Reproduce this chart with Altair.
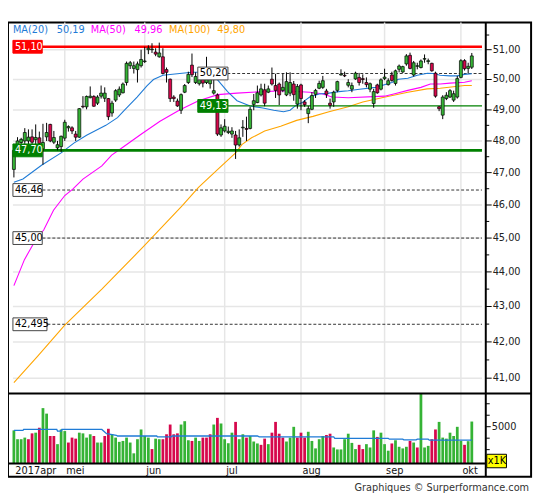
import altair as alt
import pandas as pd

# ---------------- data ----------------
OPEN = [47.10, 47.80, 47.95, 48.00, 48.00, 48.13, 48.04, 48.10, 47.75, 48.13,
        48.53, 47.96, 47.78, 47.82, 48.09, 48.42, 48.42, 48.22, 48.12, 49.12,
        49.10, 49.40, 49.44, 49.22, 49.45, 49.38, 49.37, 48.90, 49.32, 49.49,
        49.56, 49.90, 50.46, 50.37, 50.33, 50.46, 50.60, 51.00, 51.00, 50.92,
        50.76, 50.76, 50.33, 50.01, 49.42, 49.29, 48.99, 49.58, 49.90, 50.48,
        49.90, 49.86, 50.01, 49.90, 49.86, 49.55, 49.49, 48.19, 48.32, 48.27,
        48.22, 48.19, 47.87, 48.42, 48.40, 48.40, 49.18, 49.24, 49.49, 49.66,
        49.58, 50.01, 49.80, 49.85, 49.64, 49.49, 49.55, 49.85, 49.19, 49.82,
        49.26, 48.88, 49.02, 49.51, 49.71, 49.74, 49.62, 49.22, 49.26, 49.64,
        50.15, 50.14, 49.81, 49.68, 50.02, 50.07, 50.03, 49.90, 49.68, 49.21,
        49.82, 49.68, 50.03, 49.83, 50.15, 49.87, 50.34, 50.25, 50.52, 50.81,
        50.15, 50.44, 50.40, 50.68, 50.60, 50.54, 50.21, 49.10, 48.83, 49.37,
        49.42, 49.32, 49.42, 50.07, 50.63, 50.37, 50.41]
HIGH = [47.85, 48.12, 48.10, 48.41, 48.37, 48.37, 48.53, 48.30, 48.55, 48.58,
        48.55, 48.32, 48.00, 48.17, 48.68, 48.50, 48.47, 48.32, 49.06, 49.45,
        49.47, 49.77, 49.48, 49.48, 49.80, 49.74, 49.39, 49.30, 49.68, 49.77,
        49.90, 50.60, 50.62, 50.60, 50.60, 51.00, 51.10, 51.15, 51.22, 51.05,
        51.24, 51.05, 50.40, 50.03, 49.48, 49.37, 49.54, 49.85, 50.26, 50.87,
        50.24, 50.40, 50.10, 50.76, 50.10, 50.07, 49.54, 48.53, 48.70, 48.46,
        48.44, 48.32, 48.37, 48.67, 48.78, 49.10, 49.52, 49.80, 49.86, 49.86,
        49.80, 50.40, 50.19, 49.90, 50.20, 50.24, 50.24, 49.95, 49.85, 49.86,
        49.32, 49.13, 49.58, 49.69, 49.96, 50.12, 49.69, 49.37, 49.63, 49.96,
        50.34, 50.26, 50.01, 49.90, 50.26, 50.22, 50.17, 50.07, 49.90, 49.69,
        49.86, 50.04, 50.36, 50.04, 50.26, 50.33, 50.50, 50.46, 50.85, 50.90,
        50.62, 50.56, 50.67, 50.84, 50.70, 50.56, 50.26, 49.13, 49.48, 49.58,
        49.68, 49.63, 50.12, 50.68, 50.68, 50.56, 50.89]
LOW = [46.85, 47.72, 47.80, 47.85, 47.85, 47.90, 47.85, 47.75, 47.25, 48.00,
       47.96, 47.90, 47.70, 47.65, 48.00, 48.30, 48.22, 48.00, 48.10, 49.05,
       49.02, 49.38, 49.10, 49.16, 49.37, 49.26, 48.67, 48.78, 49.26, 49.42,
       49.54, 49.80, 50.35, 50.20, 49.90, 50.40, 50.55, 50.85, 50.89, 50.78,
       50.73, 50.17, 49.90, 49.26, 49.26, 49.10, 48.87, 49.55, 49.85, 50.08,
       49.85, 49.80, 49.74, 49.85, 49.70, 49.50, 48.16, 48.13, 48.27, 48.22,
       48.10, 47.43, 47.82, 48.13, 48.00, 48.37, 48.99, 49.22, 49.44, 49.12,
       49.55, 49.80, 49.39, 49.16, 49.58, 49.45, 49.45, 49.30, 49.04, 48.99,
       49.10, 48.57, 48.99, 49.39, 49.68, 49.69, 49.39, 49.04, 49.10, 49.58,
       50.13, 50.08, 49.74, 49.58, 49.99, 49.80, 49.86, 49.74, 49.58, 49.07,
       49.53, 49.64, 49.98, 49.80, 49.93, 49.80, 50.24, 50.22, 50.46, 50.34,
       50.10, 50.34, 50.37, 50.56, 50.51, 50.26, 49.40, 48.96, 48.70, 49.32,
       49.39, 49.26, 49.37, 50.04, 50.30, 50.20, 50.35]
CLOSE = [47.70, 48.00, 48.05, 48.27, 48.12, 47.96, 48.11, 47.92, 47.95, 48.27,
         48.00, 48.11, 47.88, 48.15, 48.60, 48.46, 48.32, 48.12, 49.04, 49.10,
         49.44, 49.45, 49.12, 49.42, 49.55, 49.55, 48.78, 49.22, 49.63, 49.68,
         49.85, 50.54, 50.56, 50.46, 50.52, 50.67, 50.62, 51.05, 51.02, 50.85,
         50.89, 50.20, 50.24, 49.37, 49.37, 49.13, 49.50, 49.80, 50.17, 50.16,
         50.10, 50.00, 49.88, 50.01, 50.01, 49.63, 48.22, 48.42, 48.47, 48.31,
         48.32, 47.87, 48.10, 48.44, 48.37, 49.02, 49.30, 49.56, 49.69, 49.22,
         49.69, 49.85, 49.64, 49.49, 49.74, 49.93, 49.90, 49.50, 49.77, 49.37,
         49.17, 49.04, 49.47, 49.64, 49.87, 49.96, 49.51, 49.15, 49.58, 49.93,
         50.18, 50.12, 49.90, 49.80, 50.21, 49.90, 50.00, 49.83, 49.86, 49.60,
         49.56, 49.99, 50.08, 49.96, 49.97, 50.29, 50.45, 50.43, 50.79, 50.37,
         50.56, 50.46, 50.62, 50.70, 50.63, 50.29, 49.45, 49.04, 49.42, 49.48,
         49.63, 49.53, 50.03, 50.63, 50.36, 50.44, 50.79]
VOLUME = [4680, 3910, 3910, 4050, 3910, 4420, 4480, 4910, 6620, 6140,
          4190, 4190, 3480, 4760, 4620, 3620, 4050, 3960, 4480, 4420,
          4050, 4340, 4190, 3620, 3620, 4190, 4820, 4340, 4050, 3680,
          3760, 4050, 3620, 2680, 3910, 4760, 4190, 4050, 3050, 3960,
          3910, 3910, 4340, 5190, 4340, 4420, 5190, 5480, 3820, 3760,
          4050, 3760, 4050, 4050, 4340, 5190, 5770, 5280, 3910, 3560,
          4480, 5420, 3910, 4340, 4050, 4190, 3710, 3540, 3420, 3960,
          3480, 4480, 5420, 4390, 4050, 3710, 4050, 4990, 4050, 4480,
          4050, 4560, 3760, 3110, 3910, 4190, 4280, 4390, 3190, 3020,
          3020, 3910, 4390, 3590, 3050, 3420, 3050, 3480, 3190, 4680,
          4110, 4480, 3480, 2910, 3540, 3820, 3250, 3110, 3250, 3760,
          3620, 3190, 7900, 3190, 3330, 3910, 4760, 5420, 4050, 3960,
          4480, 4190, 4990, 3760, 3420, 3740, 5450]
VOL_DIR = list("ggggrrgrgg" "rrgggrrrgg" "ggrggrrggg" "ggggggggrg"
               "grrrrrgggr" "ggrrrgrggg" "grggrgggrr" "grrrrgggrr"
               "rgggggrrgg" "gggggrrggg" "rgggrggggr" "grgggrrggg" "ggggrgg")

MA20_X = [0, 2.5, 7.6, 13, 16.5, 20, 25.3, 28.5, 30.5, 33.9, 36.6, 38.4, 41, 46.3, 49, 52.6,
          54.8, 56.1, 58.8, 61.4, 65, 68.5, 71.5, 74.2, 76, 77.4, 79.2, 81.4, 84, 86.7,
          89.4, 92, 95.1, 99.5, 104, 105.8, 108.4, 111, 113.8, 115.4, 117.3, 120, 122, 124, 126]
MA20_Y = [46.70, 46.80, 47.23, 47.62, 47.93, 48.18, 48.50, 48.75, 49.00, 49.42, 49.79, 50.00,
          50.14, 50.21, 50.24, 50.24, 50.17, 49.98, 49.60, 49.30, 49.13, 49.06, 48.99, 48.94,
          48.99, 49.13, 49.23, 49.42, 49.52, 49.55, 49.60, 49.63, 49.68, 49.74, 49.90, 50.01,
          50.04, 50.14, 50.21, 50.20, 50.14, 50.12, 50.12, 50.17, 50.19]
MA50_X = [0, 2.9, 6, 8.2, 10.9, 14, 16.2, 19, 24.2, 26.9, 29.5, 34.8, 40.2, 45.6, 50.8, 56.1,
          61.4, 68.5, 74.2, 81.4, 84.8, 87.5, 92, 102, 104.8, 108.4, 112, 114.6, 117.3, 120, 124, 126]
MA50_Y = [43.60, 44.36, 44.95, 45.24, 45.84, 46.29, 46.49, 46.80, 47.21, 47.55, 47.76, 48.20,
          48.63, 49.00, 49.30, 49.50, 49.55, 49.60, 49.63, 49.58, 49.53, 49.42, 49.40, 49.45,
          49.53, 49.64, 49.74, 49.85, 49.85, 49.88, 49.91, 49.96]
MA100_X = [0, 6.5, 14, 24.2, 35.7, 46.4, 50.8, 56.1, 61, 62.8, 65.4, 69, 73.4, 77.8, 82.3,
           86.7, 92, 96, 102.2, 108.4, 113.7, 117.3, 124, 126]
MA100_Y = [40.88, 41.60, 42.47, 43.50, 44.75, 45.99, 46.54, 47.10, 47.62, 47.89, 48.10, 48.32,
           48.47, 48.66, 48.79, 48.94, 49.10, 49.26, 49.42, 49.58, 49.69, 49.71, 49.80, 49.80]
VMA_X = [0, 2.5, 2.7, 11.8, 12, 13, 13.2, 24.2, 25.5, 28.2, 28.5, 39.3, 39.5, 43.3, 43.5, 67,
         67.5, 88, 88.3, 103, 103.3, 107, 107.3, 110.7, 111, 114, 114.3, 126]
VMA_Y = [4680, 4680, 4760, 4760, 4620, 4620, 4760, 4760, 4390, 4250, 4190, 4190, 4110, 4110,
         4190, 4190, 4110, 4110, 3990, 3990, 3910, 3910, 3850, 3850, 3910, 3910, 3830, 3830]

MONTH_IDX = [0, 14, 36, 58, 79, 102, 123]
MONTH_LBL = ["2017apr", "mei", "jun", "jul", "aug", "sep", "okt"]
PRICE_TICKS = [41, 42, 43, 44, 45, 46, 47, 48, 49, 50, 51]
PRICE_MINOR = [41.5, 42.5, 43.5, 44.5, 45.5, 46.5, 47.5, 48.5, 49.5, 50.5, 51.5]
VOL_TICKS = [3000, 4000, 6000, 7000]
VOL_LABEL = [5000]

LEVEL_P = [51.10, 47.70, 49.13, 50.20, 46.46, 45.00, 42.495]
LEVEL_TXT = ["51,10", "47,70", "49,13", "50,20", "46,46", "45,00", "42,495"]
LEGEND_TXT = ["MA(20)", "50,19", "MA(50)", "49,96", "MA(100)", "49,80"]

# ---------------- styling / layout ----------------
FONT = "DejaVu Sans Condensed, Liberation Sans, sans-serif"
UP, DOWN = "#35b335", "#d6084c"
BLUE, MAG, ORA = "#1f7bd6", "#ff00ff", "#ffa500"
LGREEN, LRED = "#008000", "#ff0000"
GRID = "#e6e6e6"
W, H = 531, 461
X0, X1 = -0.266, 140.957
AXIS = 128.8
AXIS_PX = 485
P_MIN, P_MAX = 40.59, 51.93
V_MIN, V_MAX = 1790, 7920
BOX_F = 1.00426  # half box height (6.5 px) on the log price scale

xs = alt.Scale(domain=[X0, X1], nice=False, zero=False)
ys = alt.Scale(type="log", domain=[P_MIN, P_MAX], range=[376.4, 0], nice=False)
vs = alt.Scale(domain=[V_MIN, V_MAX], range=[447.7, 376.3], nice=False, zero=False)


def X(f):
    return alt.X(f, type="quantitative", scale=xs, axis=None)


def YP(f):
    return alt.Y(f, type="quantitative", scale=ys, axis=None)


def YV(f):
    return alt.Y(f, type="quantitative", scale=vs, axis=None)


one = pd.DataFrame({"a": [0]})
N = len(CLOSE)
cdf = pd.DataFrame({"i": list(range(N)), "o": OPEN, "h": HIGH, "l": LOW, "c": CLOSE})
cdf["col"] = [UP if c >= o else DOWN for o, c in zip(OPEN, CLOSE)]
vdf = pd.DataFrame({"i": list(range(N)), "v": VOLUME,
                    "col": [UP if d == "g" else DOWN for d in VOL_DIR]})

layers = []

# grids
layers.append(alt.Chart(pd.DataFrame({"i": MONTH_IDX[1:]})).mark_rule(color=GRID, strokeWidth=1.5)
              .encode(x=X("i"), y=alt.value(0), y2=alt.value(447.7)))
layers.append(alt.Chart(pd.DataFrame({"p": PRICE_TICKS, "x0": X0, "x1": AXIS}))
              .mark_rule(color=GRID, strokeWidth=1.5)
              .encode(x=X("x0"), x2="x1", y=YP("p")))

# dashed levels
dash = pd.DataFrame({"p": LEVEL_P[3:], "x0": [50.6, X0, X0, X0], "x1": AXIS})
layers.append(alt.Chart(dash).mark_rule(color="#333333", strokeWidth=1, strokeDash=[3, 2])
              .encode(x=X("x0"), x2="x1", y=YP("p")))

# moving averages
for xsrc, ysrc, col in [(MA100_X, MA100_Y, ORA), (MA50_X, MA50_Y, MAG), (MA20_X, MA20_Y, BLUE)]:
    layers.append(alt.Chart(pd.DataFrame({"i": xsrc, "p": ysrc}))
                  .mark_line(color=col, strokeWidth=1.1)
                  .encode(x=X("i"), y=YP("p")))

# solid levels
sol = pd.DataFrame({"p": LEVEL_P[:3], "x0": [X0, X0, 50.6], "x1": AXIS,
                    "col": [LRED, LGREEN, LGREEN], "w": [2.6, 2.6, 1.4]})
layers.append(alt.Chart(sol).mark_rule()
              .encode(x=X("x0"), x2="x1", y=YP("p"),
                      color=alt.Color("col:N", scale=None),
                      strokeWidth=alt.StrokeWidth("w:Q", scale=None)))

# volume
layers.append(alt.Chart(vdf).mark_bar(size=2.8, orient="vertical")
              .encode(x=X("i"), y=YV("v"), y2=alt.datum(V_MIN),
                      color=alt.Color("col:N", scale=None)))
layers.append(alt.Chart(pd.DataFrame({"i": VMA_X, "v": VMA_Y}))
              .mark_line(color=BLUE, strokeWidth=1.3)
              .encode(x=X("i"), y=YV("v")))

# candles
layers.append(alt.Chart(cdf).mark_rule(color="black", strokeWidth=1)
              .encode(x=X("i"), y=YP("l"), y2="h"))
layers.append(alt.Chart(cdf).mark_bar(size=3, orient="vertical", stroke="black", strokeWidth=0.7)
              .encode(x=X("i"), y=YP("o"), y2="c", fill=alt.Fill("col:N", scale=None)))

# level label boxes
box = pd.DataFrame({
    "p": LEVEL_P, "t": LEVEL_TXT,
    "x0": [X0, X0, 50.6, 50.6, X0, X0, X0],
    "x1": [7.8, 7.8, 58.9, 58.9, 7.8, 7.8, 9.1],
    "fill": [LRED, LGREEN, LGREEN, "white", "white", "white", "white"],
    "stroke": [LRED, LGREEN, LGREEN, "#444444", "#444444", "#444444", "#444444"],
    "tc": ["white", "white", "white", "black", "black", "black", "black"],
})
box["yt"] = box["p"] * BOX_F
box["yb"] = box["p"] / BOX_F
layers.append(alt.Chart(box).mark_rect(strokeWidth=1)
              .encode(x=X("x0"), x2="x1", y=YP("yt"), y2="yb",
                      fill=alt.Fill("fill:N", scale=None),
                      stroke=alt.Stroke("stroke:N", scale=None)))
layers.append(alt.Chart(box).mark_text(align="left", baseline="middle", dx=2, fontSize=11, font=FONT)
              .encode(x=X("x0"), y=YP("p"), text="t:N", color=alt.Color("tc:N", scale=None)))

# frame / axis lines
layers.append(alt.Chart(one).mark_rule(color="black", strokeWidth=2)
              .encode(x=alt.value(AXIS_PX), y=alt.value(0), y2=alt.value(H)))
layers.append(alt.Chart(one).mark_rule(color="black", strokeWidth=2)
              .encode(x=alt.value(0), x2=alt.value(W), y=alt.value(376.5)))
layers.append(alt.Chart(one).mark_rule(color="black", strokeWidth=2)
              .encode(x=alt.value(0), x2=alt.value(AXIS_PX), y=alt.value(447.7)))

# price axis
layers.append(alt.Chart(pd.DataFrame({"p": PRICE_TICKS})).mark_rule(color="black", strokeWidth=1)
              .encode(x=alt.value(AXIS_PX), x2=alt.value(AXIS_PX + 6), y=YP("p")))
layers.append(alt.Chart(pd.DataFrame({"p": PRICE_MINOR})).mark_rule(color="black", strokeWidth=1)
              .encode(x=alt.value(AXIS_PX), x2=alt.value(AXIS_PX + 3.5), y=YP("p")))
plab = pd.DataFrame({"p": PRICE_TICKS, "t": [f"{v:.2f}".replace(".", ",") for v in PRICE_TICKS]})
layers.append(alt.Chart(plab).mark_text(align="left", baseline="middle", fontSize=11, font=FONT,
                                        color="#222222")
              .encode(x=alt.value(AXIS_PX + 7), y=YP("p"), text="t:N"))

# volume axis
layers.append(alt.Chart(pd.DataFrame({"v": VOL_TICKS})).mark_rule(color="black", strokeWidth=1)
              .encode(x=alt.value(AXIS_PX), x2=alt.value(AXIS_PX + 4), y=YV("v")))
layers.append(alt.Chart(pd.DataFrame({"v": VOL_LABEL})).mark_rule(color="black", strokeWidth=1)
              .encode(x=alt.value(AXIS_PX), x2=alt.value(AXIS_PX + 5), y=YV("v")))
layers.append(alt.Chart(pd.DataFrame({"v": VOL_LABEL, "t": [str(v) for v in VOL_LABEL]}))
              .mark_text(align="left", baseline="middle", fontSize=11, font=FONT, color="#222222")
              .encode(x=alt.value(AXIS_PX + 6), y=YV("v"), text="t:N"))
layers.append(alt.Chart(one).mark_rect(fill="#ffff00", stroke="black", strokeWidth=1)
              .encode(x=alt.value(AXIS_PX + 1), x2=alt.value(AXIS_PX + 21),
                      y=alt.value(438.3), y2=alt.value(452)))
layers.append(alt.Chart(one).mark_text(text="x1K", align="left", baseline="middle", fontSize=11,
                                       font=FONT, color="black")
              .encode(x=alt.value(AXIS_PX + 2), y=alt.value(445.5)))

# month labels
layers.append(alt.Chart(pd.DataFrame({"i": MONTH_IDX, "t": MONTH_LBL}))
              .mark_text(align="left", baseline="middle", dx=1.5, fontSize=11, font=FONT, color="#111111")
              .encode(x=X("i"), y=alt.value(455), text="t:N"))

# legend
leg_px = [5, 49.5, 84, 128.5, 163.5, 212.5]
leg_col = [BLUE, BLUE, MAG, MAG, ORA, ORA]
for t, px, col in zip(LEGEND_TXT, leg_px, leg_col):
    layers.append(alt.Chart(one).mark_text(text=t, align="left", baseline="middle", fontSize=11,
                                           font=FONT, color=col)
                  .encode(x=alt.value(px), y=alt.value(7.7)))

# footer
layers.append(alt.Chart(one).mark_text(text="Graphiques \u00a9 Surperformance.com", align="right",
                                       baseline="middle", fontSize=11, font=FONT, color="#333333")
              .encode(x=alt.value(529), y=alt.value(473)))

chart = (alt.layer(*layers)
         .resolve_scale(y="independent")
         .properties(width=W, height=H,
                     autosize=alt.AutoSizeParams(type="none"),
                     padding={"left": 0, "top": 11, "right": 6, "bottom": 21})
         .configure_view(stroke="black", strokeWidth=2))

chart.save("out.html", embed_options={"renderer": "svg", "actions": False})
